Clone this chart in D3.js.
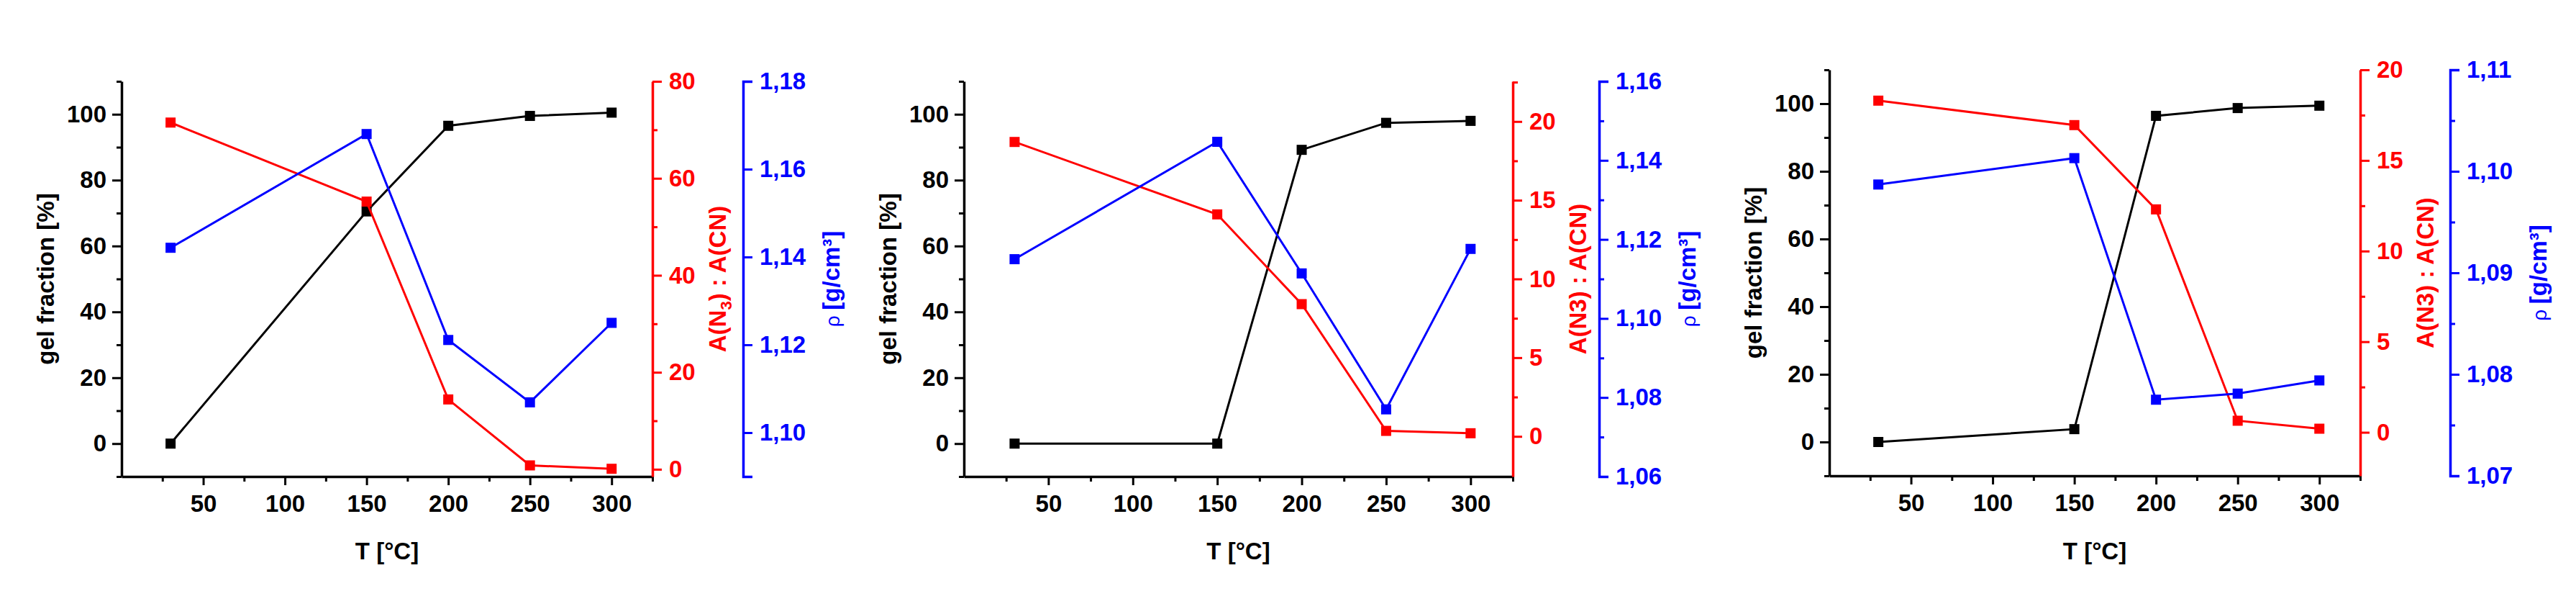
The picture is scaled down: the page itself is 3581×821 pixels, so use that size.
<!DOCTYPE html>
<html><head><meta charset="utf-8">
<script src="https://cdn.jsdelivr.net/npm/d3@7"></script>
<style>body{margin:0;background:#fff}text{font-family:"Liberation Sans",Arial,sans-serif;font-weight:bold}</style>
</head><body><div id="chart"></div>
<script>
// temperatures (shared by all panels)
const temps = [30, 150, 200, 250, 300];
const xTicks = [50, 100, 150, 200, 250, 300];

// panel 1
const gel1 = [0, 70.5, 96.5, 99.5, 100.5];
const ratio1 = [71.5, 55.2, 14.4, 0.8, 0.1];
const dens1 = [1.1421, 1.1680, 1.1211, 1.1069, 1.1250];
// panel 2
const gel2 = [0, 0, 89.2, 97.4, 98];
const ratio2 = [18.7, 14.1, 8.4, 0.35, 0.2];
const dens2 = [1.115, 1.1447, 1.1114, 1.077, 1.1176];
// panel 3
const gel3 = [0, 3.8, 96.4, 98.7, 99.4];
const ratio3 = [18.3, 16.95, 12.3, 0.64, 0.2];
const dens3 = [1.0987, 1.1013, 1.0775, 1.0781, 1.0794];

const gelTicks = [0, 20, 40, 60, 80, 100];
const ratioTicks1 = [0, 20, 40, 60, 80];
const ratioTicks23 = [0, 5, 10, 15, 20];
const densTicks1 = [1.10, 1.12, 1.14, 1.16, 1.18];
const densTicks2 = [1.06, 1.08, 1.10, 1.12, 1.14, 1.16];
const densTicks3 = [1.07, 1.08, 1.09, 1.10, 1.11];

const W = 3581, H = 821;
const svg = d3.select("#chart").append("svg").attr("width", W).attr("height", H);

const panels = [
  {x0: 169, x1: 907, blueX: 1033, top: 113, bottom: 662, gel: gel1, ratio: ratio1, dens: dens1,
   rDom: [-1.5, 80], rTicks: ratioTicks1, rMinor: 10, bDom: [1.09, 1.18], bTicks: densTicks1, bMinor: 0.01, sub: true},
  {x0: 1340, x1: 2103, blueX: 2223, top: 113, bottom: 662, gel: gel2, ratio: ratio2, dens: dens2,
   rDom: [-2.55, 22.55], rTicks: ratioTicks23, rMinor: 2.5, bDom: [1.06, 1.16], bTicks: densTicks2, bMinor: 0.01, sub: false},
  {x0: 2543, x1: 3281, blueX: 3406, top: 97, bottom: 661, gel: gel3, ratio: ratio3, dens: dens3,
   rDom: [-2.4, 20], rTicks: ratioTicks23, rMinor: 2.5, bDom: [1.07, 1.11], bTicks: densTicks3, bMinor: 0.005, sub: false}
];

const comma = f => d => d3.format(f)(d).replace(".", ",");
const range = (a, b, s) => d3.range(a, b + s / 2, s).map(v => +v.toFixed(4)).filter(v => v < b);

function styleAxis(g, color) {
  g.select(".domain").attr("stroke", color).attr("stroke-width", 3.5);
  g.selectAll(".tick line").attr("stroke", color).attr("stroke-width", 3);
  g.selectAll(".tick text").attr("fill", color).style("font-size", "33px").style("font-weight", "bold");
}

panels.forEach(p => {
  const x = d3.scaleLinear().domain([0, 325]).range([p.x0, p.x1]);
  const yG = d3.scaleLinear().domain([-10, 110]).range([p.bottom, p.top]);
  const yR = d3.scaleLinear().domain(p.rDom).range([p.bottom, p.top]);
  const yB = d3.scaleLinear().domain(p.bDom).range([p.bottom, p.top]);

  // minor ticks
  const minor = (axis, scale, vals, tr, color) => {
    const g = svg.append("g").attr("transform", tr)
      .call(axis(scale).tickValues(vals).tickSize(7).tickFormat(""));
    g.select(".domain").remove();
    g.selectAll("line").attr("stroke", color).attr("stroke-width", 3);
  };
  minor(d3.axisBottom, x, [25, 75, 125, 175, 225, 275, 325], `translate(0,${p.bottom})`, "#000");
  minor(d3.axisLeft, yG, [-10, 10, 30, 50, 70, 90, 110], `translate(${p.x0},0)`, "#000");
  minor(d3.axisRight, yR, range(p.rTicks[0] + p.rMinor, p.rDom[1], p.rMinor * 2),
        `translate(${p.x1},0)`, "red");
  minor(d3.axisRight, yB, range(p.bDom[0] + p.bMinor, p.bDom[1], p.bMinor * 2), `translate(${p.blueX},0)`, "blue");

  const gx = svg.append("g").attr("transform", `translate(0,${p.bottom})`)
    .call(d3.axisBottom(x).tickValues(xTicks).tickSize(12).tickPadding(14).tickSizeOuter(0));
  styleAxis(gx, "#000");
  const gl = svg.append("g").attr("transform", `translate(${p.x0},0)`)
    .call(d3.axisLeft(yG).tickValues(gelTicks).tickSize(13).tickPadding(8).tickSizeOuter(0));
  styleAxis(gl, "#000");
  const gr = svg.append("g").attr("transform", `translate(${p.x1},0)`)
    .call(d3.axisRight(yR).tickValues(p.rTicks).tickSize(13).tickPadding(10).tickSizeOuter(0));
  styleAxis(gr, "red");
  const gb = svg.append("g").attr("transform", `translate(${p.blueX},0)`)
    .call(d3.axisRight(yB).tickValues(p.bTicks).tickSize(13).tickPadding(10).tickSizeOuter(13).tickFormat(comma(".2f")));
  styleAxis(gb, "blue");

  // series
  const series = [[p.gel, yG, "#000"], [p.ratio, yR, "red"], [p.dens, yB, "blue"]];
  series.forEach(([vals, y, c]) => {
    const pts = temps.map((t, i) => [x(t), y(vals[i])]);
    svg.append("path").attr("d", d3.line()(pts)).attr("fill", "none").attr("stroke", c).attr("stroke-width", 3);
    svg.selectAll(null).data(pts).enter().append("rect")
      .attr("x", d => d[0] - 7).attr("y", d => d[1] - 7).attr("width", 14).attr("height", 14).attr("fill", c);
  });

  // titles
  const mid = (p.top + p.bottom) / 2;
  svg.append("text").attr("x", (p.x0 + p.x1) / 2).attr("y", 777).attr("text-anchor", "middle")
    .style("font-size", "33px").text("T [°C]");
  svg.append("text").attr("transform", `translate(${p.x0 - 94},${mid}) rotate(-90)`).attr("text-anchor", "middle")
    .style("font-size", "33px").text("gel fraction [%]");
  const rt = svg.append("text").attr("transform", `translate(${p.x1 + 102},${mid}) rotate(-90)`)
    .attr("text-anchor", "middle").attr("fill", "red").style("font-size", "33px");
  if (p.sub) {
    rt.append("tspan").text("A(N");
    rt.append("tspan").attr("dy", 8).style("font-size", "22px").text("3");
    rt.append("tspan").attr("dy", -8).text(") : A(CN)");
  } else rt.text("A(N3) : A(CN)");
  const bt = svg.append("text").attr("transform", `translate(${p.blueX + 134},${mid}) rotate(-90)`)
    .attr("text-anchor", "middle").attr("fill", "blue").style("font-size", "33px");
  bt.append("tspan").style("font-weight", "normal").style("font-size", "28px").text("ρ ");
  bt.append("tspan").text("[g/cm³]");
});
</script></body></html>
